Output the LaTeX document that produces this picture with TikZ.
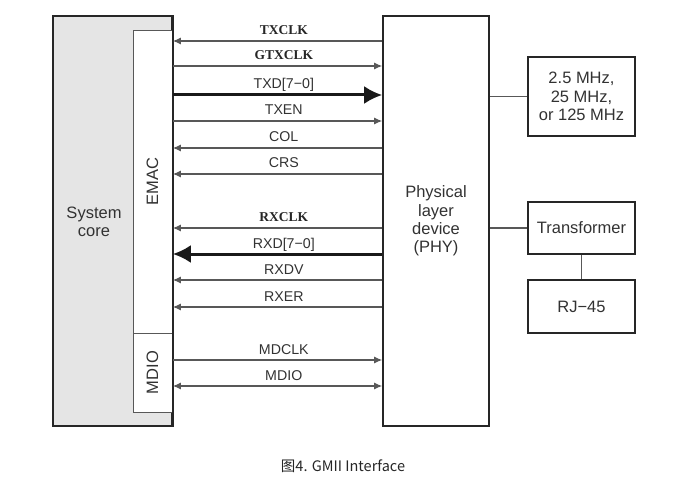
\documentclass[tikz,border=0pt]{standalone}
\usepackage{fontspec}
\setmainfont{Liberation Sans}
\newfontfamily\clkfont{Liberation Serif}
\newfontfamily\cjkfont{Noto Sans CJK SC}
\usepackage{xcolor}
\usetikzlibrary{arrows.meta,positioning}
\definecolor{linegray}{RGB}{88,88,88}
\definecolor{textgray}{RGB}{50,50,50}
\definecolor{coregray}{RGB}{229,229,229}
\tikzset{
	box/.style={draw=black!85, line width=1.6pt, inner sep=0pt},
	subbox/.style={draw=linegray, line width=0.8pt, fill=white, inner sep=0pt, minimum width=39pt},
	bigtext/.style={text=textgray, align=center, font=\fontsize{16.5}{18.3}\selectfont},
	sig/.style={draw=linegray, line width=1.2pt},
	bus/.style={draw=black!90, line width=3pt},
	tophy/.style={sig, arrows={-Latex[length=8pt,width=7pt]}},
	tocore/.style={sig, arrows={Latex[length=8pt,width=7pt]-}},
	bidir/.style={sig, arrows={Latex[length=8pt,width=7pt]-Latex[length=8pt,width=7pt]}},
	lbl/.style={pos=0.53, anchor=base, yshift=6pt, inner sep=0pt, text=textgray, font=\fontsize{14.2}{16}\selectfont},
	clklbl/.style={lbl, text=black!85, font=\clkfont\bfseries\fontsize{13.5}{16}\selectfont}
}

\begin{document}
\begin{tikzpicture}[x=1pt, y=-1pt]
        \useasboundingbox (0,0) rectangle (686,484);

        % System core with EMAC and MDIO
        \node[box, fill=coregray, minimum width=119pt, minimum height=410pt] (core) at (112.5,221) {};
        \node[subbox, minimum height=303pt] (emac) at (152.5,181.5) {};
        \node[subbox, minimum height=79pt] (mdio) at (152.5,372.5) {};
        \draw[box] (core.north east) -- (core.south east);
        \node[bigtext] (coretext) at (94,222) {System\\core};
        \node[bigtext, rotate=90] (emactext) at (emac) {EMAC};
        \node[bigtext, rotate=90] (mdiotext) at (mdio) {MDIO};

        % PHY
        \node[box, bigtext, minimum width=106pt, minimum height=410pt] (phy) at (436,221) {Physical\\layer\\device\\(PHY)};

        % Clock, transformer and connector
        \node[box, bigtext, minimum width=107pt, minimum height=79pt] (freq) at (581.5,96.5) {2.5 MHz,\\25 MHz,\\or 125 MHz};
        \node[box, bigtext, minimum width=107pt, minimum height=52pt] (xfmr) at (581.5,228) {Transformer};
        \node[box, bigtext, minimum width=107pt, minimum height=53pt] (rj45) at (581.5,306.5) {RJ−45};
        \draw[sig] (phy.east |- freq.west) -- (freq.west);
        \draw[sig] (phy.east |- xfmr.west) -- (xfmr.west);
        \draw[sig] (xfmr) -- (rj45);

        % Transmit signals
        \draw[tocore] (core.east |- 0,41) -- node[clklbl] (txclk) {TXCLK} (phy.west |- 0,41);
        \draw[tophy] (core.east |- 0,66) -- node[clklbl] (gtxclk) {GTXCLK} (phy.west |- 0,66);
        \draw[bus, arrows={-Latex[length=18pt,width=18pt]}] (core.east |- 0,95) -- node[lbl] (txd) {TXD[7−0]} (phy.west |- 0,95);
        \draw[tophy] (core.east |- 0,121) -- node[lbl] (txen) {TXEN} (phy.west |- 0,121);
        \draw[tocore] (core.east |- 0,148) -- node[lbl] (col) {COL} (phy.west |- 0,148);
        \draw[tocore] (core.east |- 0,174) -- node[lbl] (crs) {CRS} (phy.west |- 0,174);

        % Receive signals
        \draw[tocore] (core.east |- 0,228) -- node[clklbl] (rxclk) {RXCLK} (phy.west |- 0,228);
        \draw[bus, arrows={Latex[length=18pt,width=18pt]-}] (core.east |- 0,254) -- node[lbl] (rxd) {RXD[7−0]} (phy.west |- 0,254);
        \draw[tocore] (core.east |- 0,280) -- node[lbl] (rxdv) {RXDV} (phy.west |- 0,280);
        \draw[tocore] (core.east |- 0,307) -- node[lbl] (rxer) {RXER} (phy.west |- 0,307);

        % Management signals
        \draw[tophy] (core.east |- 0,360) -- node[lbl] (mdclk) {MDCLK} (phy.west |- 0,360);
        \draw[bidir] (core.east |- 0,386) -- node[lbl] (mdiosig) {MDIO} (phy.west |- 0,386);

        % Caption
        \node[anchor=base, text=black!85, font=\cjkfont\fontsize{14.5}{16}\selectfont] (caption) at (343,471) {图4. GMII Interface};
\end{tikzpicture}
\end{document}
